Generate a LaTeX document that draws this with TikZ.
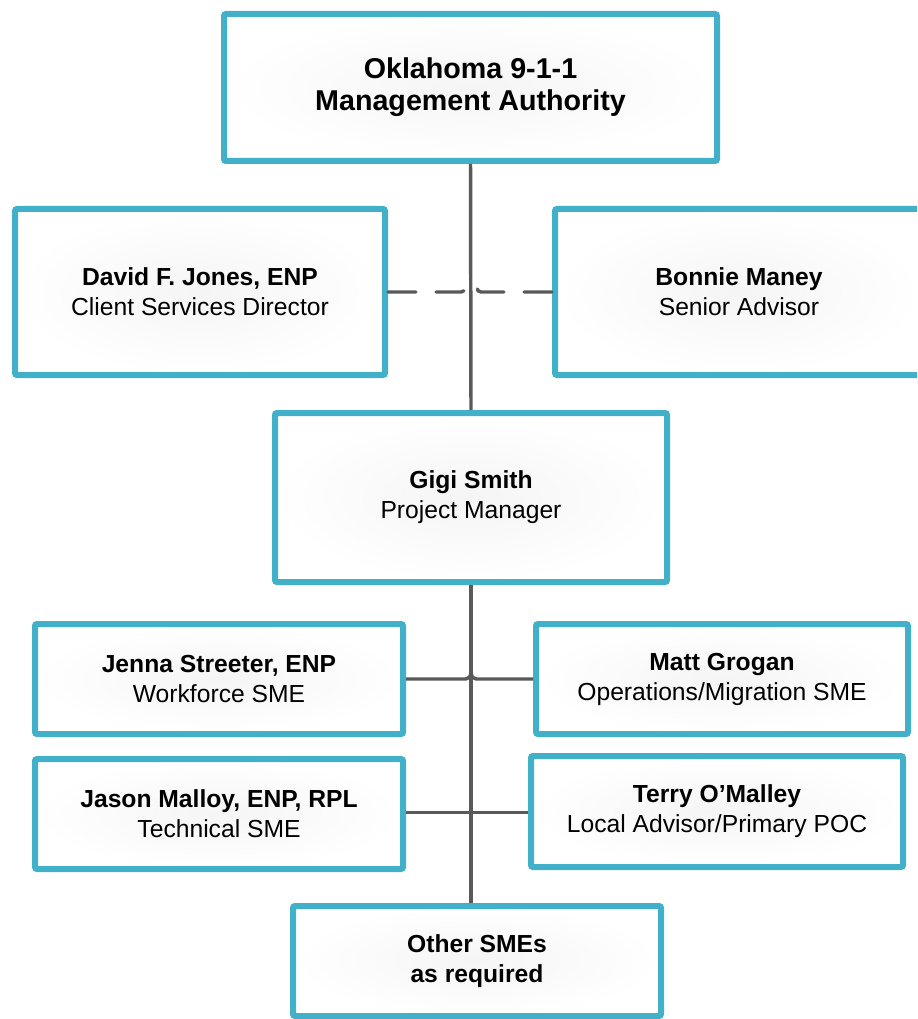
\documentclass[tikz,border=0pt]{standalone}
\usepackage{fontspec}
\setmainfont{Liberation Sans}
\definecolor{boxteal}{RGB}{66,176,201}
\definecolor{linegrey}{RGB}{89,89,89}

\begin{document}
\begin{tikzpicture}[x=0.75pt,y=0.75pt,yscale=-1,xscale=1,
        orgbox/.style={draw=boxteal,line width=4.5pt,rounded corners=1.5pt,inner color=black!4,outer color=white,
            align=center,font=\fontsize{18.5}{22.5}\selectfont,text=black},
        topbox/.style={orgbox,font=\fontsize{21.5}{24}\selectfont\bfseries},
        conn/.style={draw=linegrey,line width=2.6pt},
        dashconn/.style={conn,line cap=round,dash pattern={on 21pt off 15pt}}]
        \useasboundingbox (0,0) rectangle (917,1019);
        \clip (0,0) rectangle (917,1019);
        
        %Shape: Top box
        \node [topbox,minimum width=493*0.75,minimum height=147*0.75] (oma) at (470.5,87.5) {Oklahoma 9-1-1\\Management Authority};
        %Shape: Left advisor
        \node [orgbox,minimum width=370*0.75,minimum height=166*0.75] (david) at (200,292) {\textbf{David F. Jones, ENP}\\Client Services Director};
        %Shape: Right advisor (runs off the page)
        \node [orgbox,minimum width=368*0.75,minimum height=166*0.75] (bonnie) at (739,292) {\textbf{Bonnie Maney}\\Senior Advisor};
        %Shape: Project manager
        \node [orgbox,minimum width=392*0.75,minimum height=169*0.75] (gigi) at (471,497.5) {\textbf{Gigi Smith}\\Project Manager};
        %Shape: SMEs
        \node [orgbox,minimum width=368*0.75,minimum height=110*0.75] (jenna) at (219,679) {\textbf{Jenna Streeter, ENP}\\Workforce SME};
        \node [orgbox,minimum width=372*0.75,minimum height=110*0.75] (matt) at (722,679) {\textbf{Matt Grogan}\\Operations/Migration SME};
        \node [orgbox,minimum width=368*0.75,minimum height=110*0.75] (jason) at (219,814) {\textbf{Jason Malloy, ENP, RPL}\\Technical SME};
        \node [orgbox,minimum width=372*0.75,minimum height=111*0.75] (terry) at (717,811.5) {\textbf{Terry O’Malley}\\Local Advisor/Primary POC};
        \node [orgbox,minimum width=368*0.75,minimum height=110*0.75] (other) at (477,961) {\textbf{Other SMEs}\\\textbf{as required}};
        
        %Straight Lines: main spine
        \draw [conn] (oma.south) -- (gigi.north) ;
        \draw [conn] (gigi.south) -- (gigi.south |- other.north) ;
        %Dashed Lines: advisors, hopping over the spine
        \coordinate (hopL) at (465,287) ;
        \coordinate (hopR) at (477,287) ;
        \draw [dashconn,rounded corners=3pt] (david.east) -- (hopL |- david.east) -- (hopL) ;
        \draw [dashconn,rounded corners=3pt] (bonnie.west) -- (hopR |- bonnie.west) -- (hopR) ;
        %Straight Lines: SME branches
        \draw [conn,rounded corners=4pt] (jenna.east) -- (gigi.south |- jenna.east) -- ++(0,-12) ;
        \draw [conn,rounded corners=4pt] (matt.west) -- (gigi.south |- matt.west) -- ++(0,-12) ;
        \draw [conn] (jason.east) ++(0,-1.5) -- (terry.west |- 0,812.5) ;
        
\end{tikzpicture}
\end{document}
